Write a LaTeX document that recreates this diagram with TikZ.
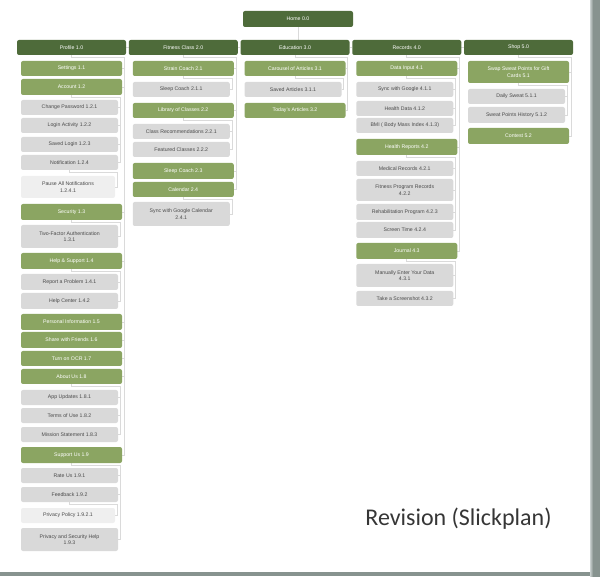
\documentclass[tikz,border=0pt]{standalone}
\usepackage{fontspec}
\setmainfont{Liberation Sans}
\newfontfamily\revfont{Carlito}
\usetikzlibrary{backgrounds}
\definecolor{dkgreen}{HTML}{4E6B3A}
\definecolor{mdgreen}{HTML}{8BA562}
\definecolor{boxgray}{HTML}{D9D9D9}
\definecolor{boxlight}{HTML}{EFEFEF}
\definecolor{txtgray}{HTML}{4A4A4A}
\definecolor{captgray}{HTML}{363636}
\definecolor{linegray}{HTML}{DADADA}
\definecolor{bardark}{HTML}{87938F}
\definecolor{barlight}{HTML}{C9D0CF}
\tikzset{
  base/.style={rounded corners=2pt, inner sep=0pt, align=center, font=\fontsize{5.2}{6.6}\selectfont},
  topbox/.style={base, fill=dkgreen, text=white},
  greenbox/.style={base, fill=mdgreen, text=white},
  graybox/.style={base, fill=boxgray, text=txtgray},
  lightbox/.style={base, fill=boxlight, text=txtgray},
  conn/.style={draw=linegray, line width=0.8pt}
}
% name, column x, y1, y2, text
\newcommand\bxT[5]{\node[topbox, minimum width=109pt, minimum height={#4-#3}] (#1) at ({#2+54.5},{(#3+#4)/2}) {#5};}
\newcommand\bxG[5]{\node[greenbox, minimum width=101pt, minimum height={#4-#3}] (#1) at ({#2+54.5},{(#3+#4)/2}) {#5};}
\newcommand\bxY[5]{\node[graybox, minimum width=97pt, minimum height={#4-#3}] (#1) at ({#2+52.5},{(#3+#4)/2}) {#5};}
\newcommand\bxL[5]{\node[lightbox, minimum width=94pt, minimum height={#4-#3}] (#1) at ({#2+51},{(#3+#4)/2}) {#5};}
\newcommand\kids[2]{\foreach \c in {#2}{\draw[conn] (#1.south) -- ++(0,2.5) -| ([xshift=2pt]\c.east) -- (\c.east);}}
\begin{document}
\begin{tikzpicture}[x=1pt,y=-1pt]
\useasboundingbox (0,0) rectangle (600,577);
% frame
\fill[bardark] (0,572) rectangle (591,575.5);
\shade[left color=barlight, right color=bardark] (590,0) rectangle (593,577);
\fill[bardark] (593,0) rectangle (600,577);
% top
\node[topbox, minimum width=110pt, minimum height=16pt] (home) at (298,19) {Home 0.0};
\bxT{p1}{17}{40}{55}{Profile 1.0}
\bxT{f2}{128.75}{40}{55}{Fitness Class 2.0}
\bxT{e3}{240.5}{40}{55}{Education 3.0}
\bxT{r4}{352.25}{40}{55}{Records 4.0}
\bxT{s5}{464}{40}{55}{Shop 5.0}
% column 1
\bxG{s11}{17}{61}{76}{Settings 1.1}
\bxG{s12}{17}{79}{95}{Account 1.2}
\bxY{s121}{17}{100}{115}{Change Password 1.2.1}
\bxY{s122}{17}{118}{133}{Login Activity 1.2.2}
\bxY{s123}{17}{137}{152}{Saved Login 1.2.3}
\bxY{s124}{17}{155}{170}{Notification 1.2.4}
\bxL{s1241}{17}{176}{198}{Pause All Notifications\\1.2.4.1}
\bxG{s13}{17}{204}{220}{Security 1.3}
\bxY{s131}{17}{225}{248}{Two-Factor Authentication\\1.3.1}
\bxG{s14}{17}{253}{269}{Help \& Support 1.4}
\bxY{s141}{17}{274}{290}{Report a Problem 1.4.1}
\bxY{s142}{17}{293}{309}{Help Center 1.4.2}
\bxG{s15}{17}{314}{330}{Personal Information 1.5}
\bxG{s16}{17}{332}{348}{Share with Friends 1.6}
\bxG{s17}{17}{351}{366}{Turn on OCR 1.7}
\bxG{s18}{17}{369}{384}{About Us 1.8}
\bxY{s181}{17}{390}{405}{App Updates 1.8.1}
\bxY{s182}{17}{408}{423}{Terms of Use 1.8.2}
\bxY{s183}{17}{427}{442}{Mission Statement 1.8.3}
\bxG{s19}{17}{447}{463}{Support Us 1.9}
\bxY{s191}{17}{468}{483}{Rate Us 1.9.1}
\bxY{s192}{17}{487}{502}{Feedback 1.9.2}
\bxL{s1921}{17}{508}{523}{Privacy Policy 1.9.2.1}
\bxY{s193}{17}{528}{551}{Privacy and Security Help\\1.9.3}
% column 2
\bxG{t21}{128.75}{61}{76}{Strain Coach 2.1}
\bxY{t211}{128.75}{82}{97}{Sleep Coach 2.1.1}
\bxG{t22}{128.75}{103}{118}{Library of Classes 2.2}
\bxY{t221}{128.75}{124}{139}{Class Recommendations 2.2.1}
\bxY{t222}{128.75}{142}{157}{Featured Classes 2.2.2}
\bxG{t23}{128.75}{163}{179}{Sleep Coach 2.3}
\bxG{t24}{128.75}{182}{197}{Calendar 2.4}
\bxY{t241}{128.75}{202}{226}{Sync with Google Calendar\\2.4.1}
% column 3
\bxG{u31}{240.5}{61}{76}{Carousel of Articles 3.1}
\bxY{u311}{240.5}{82}{97}{Saved Articles 3.1.1}
\bxG{u32}{240.5}{103}{118}{Today's Articles 3.2}
% column 4
\bxG{v41}{352.25}{61}{76}{Data Input 4.1}
\bxY{v411}{352.25}{82}{97}{Sync with Google 4.1.1}
\bxY{v412}{352.25}{101}{116}{Health Data 4.1.2}
\bxY{v413}{352.25}{118}{133}{BMI ( Body Mass Index 4.1.3)}
\bxG{v42}{352.25}{139}{155}{Health Reports 4.2}
\bxY{v421}{352.25}{161}{176}{Medical Records 4.2.1}
\bxY{v422}{352.25}{179}{201}{Fitness Program Records\\4.2.2}
\bxY{v423}{352.25}{204}{220}{Rehabilitation Program 4.2.3}
\bxY{v424}{352.25}{222}{238}{Screen Time 4.2.4}
\bxG{v43}{352.25}{243}{259}{Journal 4.3}
\bxY{v431}{352.25}{264}{287}{Manually Enter Your Data\\4.3.1}
\bxY{v432}{352.25}{291}{306}{Take a Screenshot 4.3.2}
% column 5
\bxG{w51}{464}{61}{83}{Swap Sweat Points for Gift\\Cards 5.1}
\bxY{w511}{464}{89}{104}{Daily Sweat 5.1.1}
\bxY{w512}{464}{107}{123}{Sweat Points History 5.1.2}
\bxG{w52}{464}{128}{144}{Contest 5.2}
% caption
\node[anchor=base, text=captgray, font=\revfont\fontsize{24}{28}\selectfont, inner sep=0pt] (rev) at (458.5,525) {Revision (Slickplan)};
% connectors
\begin{pgfonlayer}{background}
\draw[conn] (home.south) -- (home.south |- e3.north);
\draw[conn] (p1.east) -- (f2.west);
\draw[conn] (f2.east) -- (e3.west);
\draw[conn] (e3.east) -- (r4.west);
\draw[conn] (r4.east) -- (s5.west);
\kids{p1}{s11,s12,s13,s14,s15,s16,s17,s18,s19}
\kids{s12}{s121,s122,s123,s124}
\kids{s124}{s1241}
\kids{s13}{s131}
\kids{s14}{s141,s142}
\kids{s18}{s181,s182,s183}
\kids{s19}{s191,s192,s193}
\kids{s192}{s1921}
\kids{f2}{t21,t22,t23,t24}
\kids{t21}{t211}
\kids{t22}{t221,t222}
\kids{t24}{t241}
\kids{e3}{u31,u32}
\kids{u31}{u311}
\kids{r4}{v41,v42,v43}
\kids{v41}{v411,v412,v413}
\kids{v42}{v421,v422,v423,v424}
\kids{v43}{v431,v432}
\kids{s5}{w51,w52}
\kids{w51}{w511,w512}
\end{pgfonlayer}
\end{tikzpicture}
\end{document}
